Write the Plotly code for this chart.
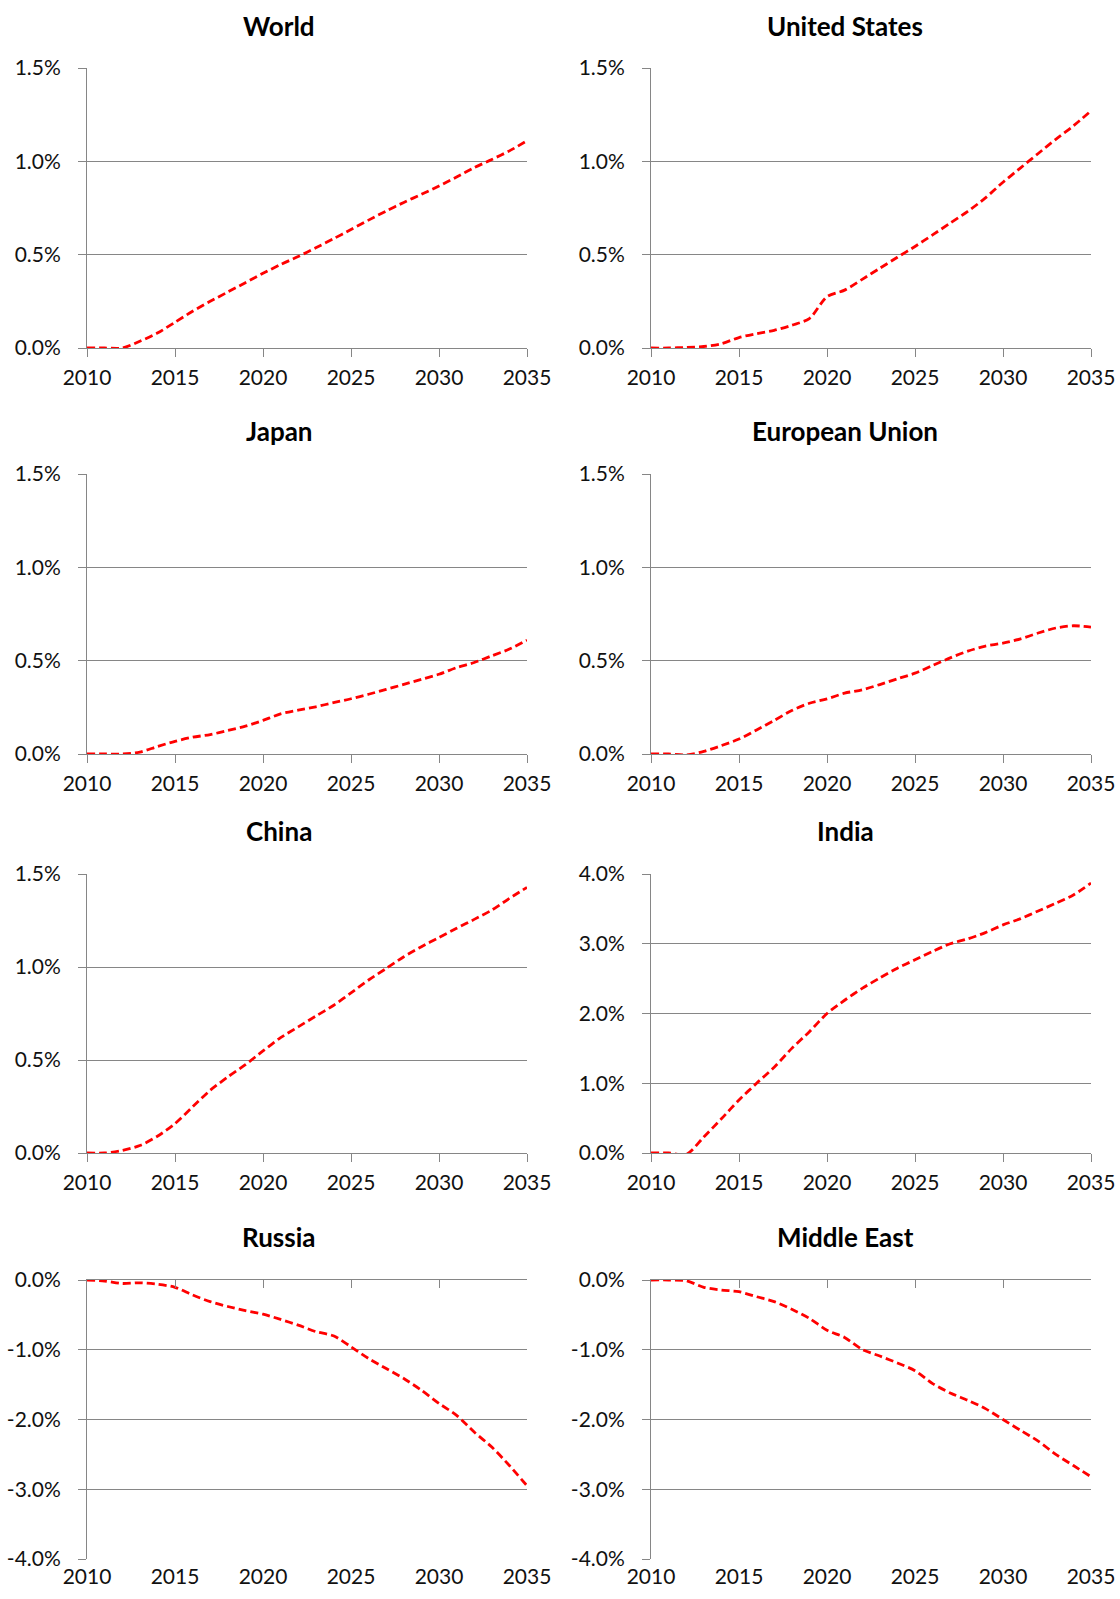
import plotly.graph_objects as go

W, H = 1120, 1599

years = list(range(2010, 2036))
year_ticks = [2010, 2015, 2020, 2025, 2030, 2035]

titles = ["World", "United States", "Japan", "European Union",
          "China", "India", "Russia", "Middle East"]

world = [0.0, 0.0, 0.0, 0.036, 0.08, 0.138, 0.197, 0.25, 0.30, 0.35, 0.40, 0.447, 0.49,
         0.537, 0.585, 0.635, 0.685, 0.734, 0.78, 0.823, 0.868, 0.916, 0.966, 1.01, 1.056, 1.11]
us = [0.0, 0.0, 0.003, 0.008, 0.023, 0.056, 0.077, 0.095, 0.122, 0.158, 0.275, 0.31, 0.368,
      0.427, 0.486, 0.544, 0.606, 0.669, 0.732, 0.804, 0.888, 0.965, 1.042, 1.118, 1.19, 1.27]
japan = [0.0, 0.0, 0.0, 0.01, 0.04, 0.068, 0.09, 0.104, 0.126, 0.149, 0.18, 0.215, 0.235,
         0.253, 0.275, 0.296, 0.32, 0.346, 0.373, 0.40, 0.427, 0.463, 0.49, 0.526, 0.562, 0.61]
eu = [0.0, 0.0, -0.005, 0.014, 0.045, 0.08, 0.129, 0.18, 0.233, 0.272, 0.295, 0.326, 0.344,
      0.372, 0.403, 0.433, 0.474, 0.515, 0.551, 0.578, 0.594, 0.617, 0.648, 0.675, 0.687, 0.68]
china = [0.0, 0.0, 0.014, 0.04, 0.09, 0.158, 0.248, 0.337, 0.409, 0.475, 0.549, 0.62, 0.678,
         0.736, 0.793, 0.861, 0.93, 0.992, 1.055, 1.109, 1.159, 1.208, 1.256, 1.306, 1.369, 1.428]
india = [0.0, 0.0, -0.02, 0.23, 0.49, 0.76, 1.0, 1.23, 1.5, 1.74, 2.0, 2.19, 2.36,
         2.51, 2.65, 2.77, 2.89, 3.0, 3.07, 3.16, 3.27, 3.36, 3.47, 3.58, 3.70, 3.87]
russia = [0.0, -0.015, -0.05, -0.04, -0.06, -0.105, -0.215, -0.31, -0.38, -0.44, -0.49, -0.565,
          -0.647, -0.74, -0.80, -0.958, -1.126, -1.27, -1.413, -1.58, -1.77, -1.94, -2.18,
          -2.395, -2.66, -2.95]
middle_east = [0.0, 0.0, -0.01, -0.105, -0.144, -0.168, -0.24, -0.31, -0.42, -0.55, -0.72,
               -0.824, -0.996, -1.09, -1.19, -1.30, -1.485, -1.62, -1.725, -1.844, -2.0,
               -2.156, -2.31, -2.5, -2.66, -2.82]

pos_ticks = [0.0, 0.5, 1.0, 1.5]
pos_labels = ["0.0%", "0.5%", "1.0%", "1.5%"]
india_ticks = [0, 1, 2, 3, 4]
india_labels = ["0.0%", "1.0%", "2.0%", "3.0%", "4.0%"]
neg_ticks = [-4, -3, -2, -1, 0]
neg_labels = ["-4.0%", "-3.0%", "-2.0%", "-1.0%", "0.0%"]

series = [world, us, japan, eu, china, india, russia, middle_east]
yticks = [(pos_ticks, pos_labels)] * 5 + [(india_ticks, india_labels)] + [(neg_ticks, neg_labels)] * 2

# pixel layout
col_x = [(87, 527), (651, 1091)]
row_y = [(68, 348), (474, 754), (874, 1153), (1280, 1559)]
title_y = [26, 431, 831, 1237]
title_x = [279, 845]


def px(x):
    return x / W


def py(y):
    return 1 - y / H


GRAY = "#868686"
FONT = "Lato"

fig = go.Figure()
layout = {}
for i, (name, vals) in enumerate(zip(titles, series)):
    r, c = divmod(i, 2)
    n = i + 1
    xa = "x" if n == 1 else f"x{n}"
    ya = "y" if n == 1 else f"y{n}"
    fig.add_trace(go.Scatter(
        x=years, y=vals, xaxis=xa, yaxis=ya, mode="lines",
        line=dict(color="#FF0000", width=2.8, dash="8px,4px", shape="spline", smoothing=0.8),
        showlegend=False, hoverinfo="skip"))
    x0, x1 = col_x[c]
    y0, y1 = row_y[r]
    tv, tt = yticks[i]
    neg = tv[0] < 0
    layout[f"xaxis{n}"] = dict(
        domain=[px(x0), px(x1)], anchor=ya, range=[2010, 2035], automargin=False,
        tickvals=year_ticks, ticktext=[str(t) for t in year_ticks],
        showgrid=False, zeroline=False,
        showline=not neg, linecolor=GRAY, linewidth=1,
        ticks="" if neg else "outside", ticklen=8, tickcolor=GRAY,
        tickfont=dict(family=FONT, size=21, color="#111111"),
        ticklabelstandoff=3,
    )
    layout[f"yaxis{n}"] = dict(
        domain=[py(y1), py(y0)], anchor=xa, range=[tv[0], tv[-1]], automargin=False,
        tickvals=tv, ticktext=tt,
        showgrid=True, gridcolor=GRAY, gridwidth=1, zeroline=False,
        showline=True, linecolor=GRAY, linewidth=1,
        ticks="outside", ticklen=8, tickcolor=GRAY,
        tickfont=dict(family=FONT, size=21, color="#111111"),
        ticklabelstandoff=13,
    )
    fig.add_annotation(
        text=f"<b>{name}</b>", x=px(title_x[c]), y=py(title_y[r]),
        xref="paper", yref="paper", xanchor="center", yanchor="middle",
        showarrow=False, font=dict(family=FONT, size=26, color="#000000"))

# top axes with downward ticks for the negative charts
for i in (6, 7):
    n = i + 1
    m = n + 2
    vals = series[i]
    fig.add_trace(go.Scatter(
        x=years, y=vals, xaxis=f"x{m}", yaxis=f"y{n}", mode="lines",
        line=dict(color="rgba(0,0,0,0)", width=0), showlegend=False, hoverinfo="skip"))
    layout[f"xaxis{m}"] = dict(
        overlaying=f"x{n}", anchor=f"y{n}", side="top", range=[2010, 2035], automargin=False,
        tickvals=year_ticks, showticklabels=False, showgrid=False, zeroline=False,
        showline=True, linecolor=GRAY, linewidth=1,
        ticks="inside", ticklen=8, tickcolor=GRAY,
    )

fig.update_layout(
    width=W, height=H, margin=dict(l=0, r=0, t=0, b=0, autoexpand=False),
    paper_bgcolor="white", plot_bgcolor="white",
    **layout,
)

# drop the browser's default body margin so the figure fills the window exactly
fig.write_html(
    "out.html",
    config={"displayModeBar": False},
    post_script="document.body.style.margin='0';document.documentElement.style.overflow='hidden';",
)
